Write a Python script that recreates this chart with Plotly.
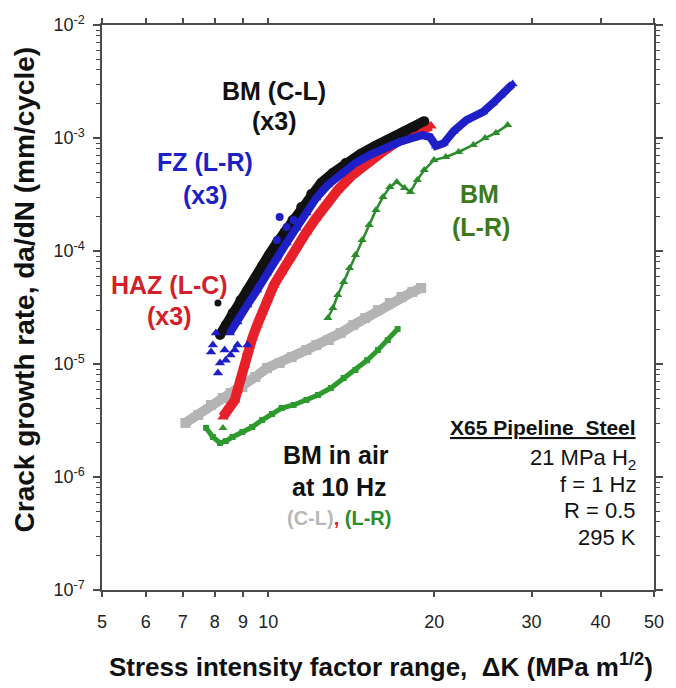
import plotly.graph_objects as go

# ---------------- data ----------------
# BM (C-L) in 21 MPa H2 (black circles)
bm_cl_dk = [8.18, 8.38, 8.62, 8.91, 9.17, 9.48, 9.75, 10.03, 10.37, 10.71, 11.07, 11.48,
            11.97, 12.47, 13.10, 13.81, 14.69, 15.62, 16.61, 17.66, 18.40, 19.17]
bm_cl_rate = [1.81e-5, 2.21e-5, 2.83e-5, 3.68e-5, 4.52e-5, 5.77e-5, 7.36e-5, 9.22e-5, 1.18e-4,
              1.47e-4, 1.88e-4, 2.45e-4, 3.19e-4, 4.0e-4, 4.90e-4, 6.01e-4, 7.22e-4, 8.50e-4,
              9.8e-4, 1.13e-3, 1.25e-3, 1.41e-3]
bm_cl_out_dk = [8.11]
bm_cl_out_rate = [3.47e-5]

# FZ (L-R) in H2 (blue)
fz_dk = [8.52, 8.80, 9.17, 9.55, 9.95, 10.37, 10.80, 11.25, 11.73, 12.22, 12.83, 13.53, 14.39,
         15.30, 16.27, 17.30, 18.25, 19.01, 19.65, 20.14, 20.81, 21.68, 22.86, 24.51, 25.54,
         26.39, 27.72]
fz_rate = [1.88e-5, 2.35e-5, 3.33e-5, 4.52e-5, 6.38e-5, 8.67e-5, 1.18e-4, 1.60e-4, 2.17e-4,
           2.94e-4, 3.84e-4, 4.80e-4, 6.01e-4, 7.08e-4, 8.16e-4, 9.22e-4, 1.0e-3, 1.06e-3,
           1.02e-3, 8.50e-4, 9.0e-4, 1.15e-3, 1.44e-3, 1.70e-3, 2.04e-3, 2.40e-3, 3.0e-3]
fz_scatter_dk = [7.88, 8.11, 8.18, 8.34, 8.55, 8.70, 8.80, 9.17, 8.04, 8.38, 7.94]
fz_scatter_rate = [1.28e-5, 8.32e-6, 1.02e-5, 1.33e-5, 1.20e-5, 1.33e-5, 1.47e-5, 1.47e-5,
                   1.88e-5, 1.08e-5, 1.47e-5]
fz_dots_dk = [10.49, 10.37, 10.80, 11.12]
fz_dots_rate = [2.0e-4, 1.25e-4, 1.63e-4, 1.88e-4]

# HAZ (L-C) in H2 (red)
haz_dk = [8.28, 8.52, 8.70, 8.80, 8.91, 9.05, 9.17, 9.36, 9.55, 9.75, 9.95, 10.24, 10.58,
          10.94, 11.25, 11.73, 12.22, 12.73, 13.37, 14.21, 15.11, 16.27, 17.30, 18.40, 19.73]
haz_rate = [3.40e-6, 4.34e-6, 4.80e-6, 5.89e-6, 7.52e-6, 9.8e-6, 1.28e-5, 1.70e-5, 2.21e-5,
            2.88e-5, 3.68e-5, 5.0e-5, 6.52e-5, 8.67e-5, 1.08e-4, 1.47e-4, 1.96e-4, 2.61e-4,
            3.47e-4, 4.71e-4, 6.01e-4, 7.83e-4, 9.6e-4, 1.13e-3, 1.28e-3]

# BM (L-R) in H2 (green triangles)
bm_lr_dk = [12.83, 13.10, 13.37, 13.70, 14.04, 14.39, 14.80, 15.24, 15.68, 16.14, 16.61, 17.10,
            17.66, 18.10, 18.63, 19.17, 19.97, 20.98, 22.12, 23.53, 24.71, 25.85, 27.16]
bm_lr_rate = [2.55e-5, 3.13e-5, 4.08e-5, 5.32e-5, 7.08e-5, 9.22e-5, 1.25e-4, 1.70e-4, 2.31e-4,
              3.0e-4, 3.68e-4, 4.08e-4, 3.61e-4, 3.33e-4, 4.25e-4, 5.21e-4, 6.38e-4, 6.79e-4,
              7.52e-4, 8.67e-4, 1.0e-3, 1.11e-3, 1.30e-3]

# BM in air at 10 Hz, C-L (gray)
air_cl_dk = [7.08, 7.47, 7.88, 8.28, 8.55, 8.98, 9.48, 9.95, 10.49, 11.03, 11.73, 12.22, 12.88,
             13.53, 14.27, 14.99, 15.81, 16.61, 17.44, 18.25, 18.93]
air_cl_rate = [3.01e-6, 3.54e-6, 4.34e-6, 5.0e-6, 5.54e-6, 6.25e-6, 7.67e-6, 9.22e-6, 1.02e-5,
               1.15e-5, 1.33e-5, 1.47e-5, 1.63e-5, 1.88e-5, 2.21e-5, 2.55e-5, 3.0e-5, 3.47e-5,
               3.92e-5, 4.34e-5, 4.71e-5]

# BM in air at 10 Hz, L-R (green)
air_lr_dk = [7.72, 7.94, 8.18, 8.38, 8.62, 8.98, 9.36, 9.75, 10.16, 10.58, 11.12, 11.73, 12.31,
             12.99, 13.70, 14.39, 15.11, 15.81, 16.47, 17.16]
air_lr_rate = [2.72e-6, 2.26e-6, 2.0e-6, 2.08e-6, 2.26e-6, 2.50e-6, 2.77e-6, 3.19e-6, 3.61e-6,
               4.08e-6, 4.34e-6, 4.80e-6, 5.32e-6, 6.13e-6, 7.52e-6, 8.85e-6, 1.08e-5, 1.33e-5,
               1.63e-5, 2.04e-5]
air_lr_pt_dk = [8.28]
air_lr_pt_rate = [2.72e-6]

x_tick_vals = [5, 6, 7, 8, 9, 10, 20, 30, 40, 50]
x_tick_text = ["5", "6", "7", "8", "9", "10", "20", "30", "40", "50"]
y_tick_vals = [1e-7, 1e-6, 1e-5, 1e-4, 1e-3, 1e-2]
y_tick_text = ["10<sup>-7</sup>", "10<sup>-6</sup>", "10<sup>-5</sup>", "10<sup>-4</sup>",
               "10<sup>-3</sup>", "10<sup>-2</sup>"]

# ---------------- colours ----------------
C_BLACK = "#111111"
C_BLUE = "#1f1fc8"
C_RED = "#e8202a"
C_GREEN = "#2a8c2a"
C_GREEN_AIR = "#2d9a2d"
C_GRAY = "#b4b4b4"
FONT = "Liberation Sans, Arial, sans-serif"

fig = go.Figure()


def band(dk, rate, color, symbol, size, lw):
    fig.add_trace(go.Scatter(
        x=dk, y=rate, mode="lines+markers",
        line=dict(color=color, width=lw),
        marker=dict(symbol=symbol, size=size, color=color, line=dict(width=0)),
        showlegend=False, hoverinfo="x+y"))


def pts(dk, rate, color, symbol, size):
    fig.add_trace(go.Scatter(
        x=dk, y=rate, mode="markers",
        marker=dict(symbol=symbol, size=size, color=color, line=dict(width=0)),
        showlegend=False, hoverinfo="x+y"))


band(air_cl_dk, air_cl_rate, C_GRAY, "square", 10, 10)
band(air_lr_dk, air_lr_rate, C_GREEN_AIR, "square", 6, 5)
pts(air_lr_pt_dk, air_lr_pt_rate, C_GREEN_AIR, "triangle-up", 8)
band(bm_lr_dk, bm_lr_rate, C_GREEN, "triangle-up", 8, 2.5)
band(haz_dk, haz_rate, C_RED, "triangle-up", 10, 10)
band(bm_cl_dk, bm_cl_rate, C_BLACK, "circle", 10, 10)
pts(bm_cl_out_dk, bm_cl_out_rate, C_BLACK, "circle", 7)
band(fz_dk, fz_rate, C_BLUE, "triangle-up", 9, 8)
pts(fz_scatter_dk, fz_scatter_rate, C_BLUE, "triangle-up", 9)
pts(fz_dots_dk, fz_dots_rate, C_BLUE, "circle", 8)

# ---------------- layout ----------------
L, R, T, B = 102, 12, 25, 98
W, H = 676, 688
PW, PH = W - L - R, H - T - B


def px(x):
    return (x - L) / PW


def py(y):
    return (H - B - y) / PH


annots = []


def txt(x, y, s, color, size, bold=True, xanchor="center"):
    annots.append(dict(xref="paper", yref="paper", x=px(x), y=py(y), text=("<b>%s</b>" % s) if bold else s,
                       showarrow=False, xanchor=xanchor, yanchor="middle",
                       font=dict(family=FONT, size=size, color=color)))


txt(277, 91, "BM (C-L)", "#111111", 25)
txt(277, 121, "(x3)", "#111111", 25)
txt(207, 162, "FZ (L-R)", C_BLUE, 25)
txt(207, 195, "(x3)", C_BLUE, 25)
txt(171, 285, "HAZ (L-C)", "#d42028", 25)
txt(170, 316, "(x3)", "#d42028", 25)
txt(486, 194, "BM", "#3a7a1a", 25)
txt(488, 227, "(L-R)", "#3a7a1a", 25)
txt(340, 455, "BM in air", "#111111", 25)
txt(343, 487, "at 10 Hz", "#111111", 25)
txt(343, 518, "<span style='color:#b8b8b8'>(C-L)</span><span style='color:#e8202a'>, </span>"
    "<span style='color:#2a8c2a'>(L-R)</span>", "#111111", 20)
txt(648, 427, "<u>X65 Pipeline\u00a0 Steel</u>", "#111111", 21, xanchor="right")
txt(648, 459, "21 MPa H<sub>2</sub>", "#111111", 22, bold=False, xanchor="right")
txt(648, 484, "f = 1 Hz", "#111111", 22, bold=False, xanchor="right")
txt(648, 510, "R = 0.5", "#111111", 22, bold=False, xanchor="right")
txt(648, 537, "295 K", "#111111", 22, bold=False, xanchor="right")

# axis titles
annots.append(dict(xref="paper", yref="paper", x=px(386), y=py(665), showarrow=False,
                   text="<b>Stress intensity factor range,  \u0394K (MPa m<sup>1/2</sup>)</b>",
                   xanchor="center", yanchor="middle",
                   font=dict(family=FONT, size=26, color="#111111")))
annots.append(dict(xref="paper", yref="paper", x=px(23), y=py(290), showarrow=False,
                   text="<b>Crack growth rate, da/dN (mm/cycle)</b>", textangle=-90,
                   xanchor="center", yanchor="middle",
                   font=dict(family=FONT, size=28, color="#111111")))

minor_y = [m * 10.0 ** e for e in range(-7, -2) for m in range(2, 10)]

axis_common = dict(showline=True, linecolor="#4a4a4a", linewidth=1.5, mirror="ticks",
                   ticks="outside", tickcolor="#4a4a4a", tickwidth=1.5,
                   showgrid=False, zeroline=False,
                   tickfont=dict(family=FONT, size=18, color="#222222"))

fig.update_layout(
    width=W, height=H,
    margin=dict(l=L, r=R, t=T, b=B, pad=0),
    paper_bgcolor="white", plot_bgcolor="white",
    xaxis=dict(type="log", range=[0.69897, 1.69897], tickmode="array",
               tickvals=x_tick_vals, ticktext=x_tick_text, ticklen=5,
               ticklabelstandoff=10, **axis_common),
    yaxis=dict(type="log", range=[-7, -2], tickmode="array",
               tickvals=y_tick_vals, ticktext=y_tick_text, ticklen=7,
               ticklabelstandoff=5,
               minor=dict(tickmode="array", tickvals=minor_y, ticks="outside", ticklen=4,
                          tickcolor="#4a4a4a", tickwidth=1.2, showgrid=False),
               **axis_common),
    annotations=annots,
    showlegend=False,
)

fig.write_html("out.html", config={"displayModeBar": False},
               post_script="document.body.style.margin='0';document.body.style.overflow='hidden';")
